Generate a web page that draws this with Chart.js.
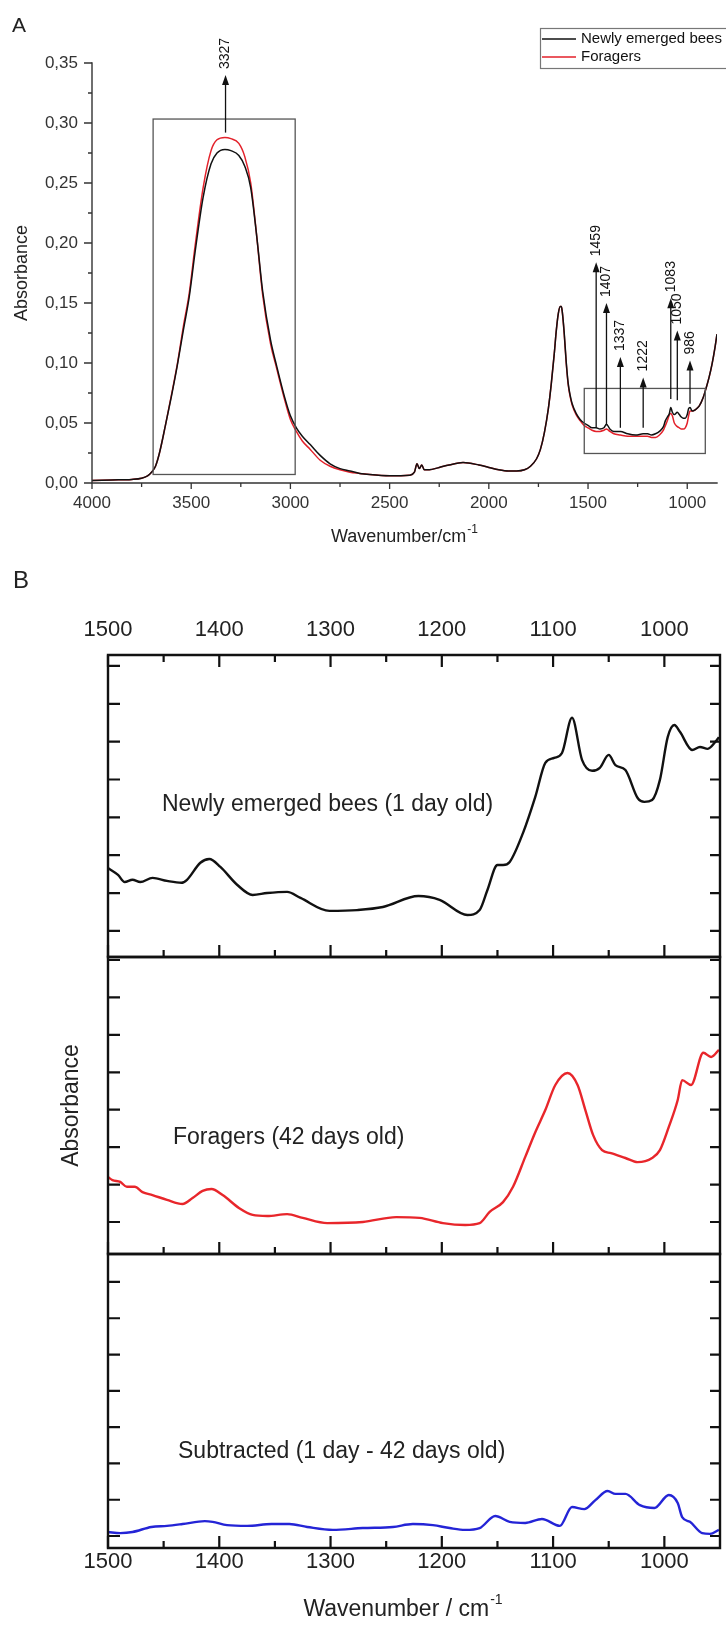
<!DOCTYPE html>
<html><head><meta charset="utf-8">
<script src="https://cdn.jsdelivr.net/npm/chart.js@4.4.1/dist/chart.umd.min.js"></script>
<style>
html,body{margin:0;padding:0;background:#fff;}
#wrap{position:relative;width:726px;height:1636px;overflow:hidden;background:#fff;}
canvas{position:absolute;left:0;}
</style></head><body>
<div id="wrap">
<canvas id="cA" width="726" height="560" style="top:0px"></canvas>
<canvas id="cB1" width="726" height="410" style="top:560px"></canvas>
<canvas id="cB2" width="726" height="330" style="top:940px"></canvas>
<canvas id="cB3" width="726" height="396" style="top:1240px"></canvas>
</div>
<script>
// ---------------- DATA: panel A ----------------
const wnA = [4000,3900,3800,3750,3720,3700,3680,3660,3630,3600,3570,3540,3510,3480,3440,3400,3370,3330,3300,3260,
  3230,3200,3170,3140,3100,3070,3030,3000,2970,2940,2900,2850,2800,2750,2700,2650,2600,2500,2400,2375,
  2362,2350,2338,2325,2300,2250,2200,2130,2050,2000,1950,1900,1860,1820,1790,1760,1740,1720,1700,1685,
  1670,1660,1650,1640,1635,1630,1620,1610,1600,1590,1580,1560,1540,1520,1500,1480,1459,1440,1420,1407,
  1390,1370,1337,1300,1260,1222,1200,1180,1160,1140,1120,1110,1100,1090,1083,1075,1065,1050,1040,1030,
  1020,1010,1000,993,986,975,960,940,920,905,890,875,860,850];
const newlyA = [0.002,0.0025,0.003,0.004,0.006,0.009,0.014,0.025,0.048,0.072,0.098,0.127,0.155,0.193,0.238,0.266,0.275,0.278,0.277,0.273,
  0.264,0.246,0.206,0.160,0.119,0.098,0.072,0.056,0.046,0.039,0.032,0.023,0.016,0.012,0.010,0.008,0.007,0.006,0.0065,0.009,
  0.016,0.012,0.015,0.011,0.011,0.013,0.015,0.017,0.015,0.013,0.011,0.010,0.010,0.011,0.014,0.020,0.028,0.042,0.062,0.083,
  0.108,0.127,0.141,0.147,0.147,0.143,0.125,0.101,0.083,0.073,0.066,0.058,0.053,0.050,0.048,0.046,0.046,0.045,0.046,0.049,
  0.045,0.043,0.043,0.041,0.040,0.041,0.041,0.040,0.041,0.043,0.047,0.052,0.055,0.058,0.063,0.059,0.057,0.059,0.057,0.055,
  0.054,0.054,0.057,0.062,0.063,0.060,0.061,0.064,0.071,0.079,0.088,0.099,0.113,0.124];
const foragersA = [0.002,0.0025,0.003,0.004,0.006,0.009,0.014,0.025,0.048,0.073,0.099,0.130,0.158,0.198,0.246,0.277,0.286,0.288,0.287,0.283,
  0.272,0.250,0.206,0.157,0.116,0.096,0.070,0.053,0.043,0.035,0.028,0.019,0.014,0.011,0.009,0.008,0.007,0.006,0.0065,0.009,
  0.016,0.012,0.015,0.011,0.011,0.013,0.015,0.017,0.015,0.013,0.011,0.010,0.010,0.011,0.014,0.020,0.028,0.042,0.062,0.083,
  0.108,0.127,0.141,0.147,0.147,0.143,0.124,0.100,0.082,0.072,0.065,0.057,0.052,0.048,0.046,0.044,0.043,0.043,0.044,0.045,
  0.043,0.041,0.040,0.039,0.039,0.039,0.039,0.038,0.038,0.040,0.044,0.048,0.052,0.057,0.058,0.056,0.050,0.047,0.046,0.045,
  0.045,0.046,0.050,0.056,0.060,0.060,0.061,0.064,0.071,0.079,0.088,0.099,0.113,0.124];
const seriesNamesA = ['Newly emerged bees', 'Foragers'];
const xMajorA = [4000,3500,3000,2500,2000,1500,1000];
const xMinorA = [3750,3250,2750,2250,1750,1250];
const yMajorA = [0,0.05,0.10,0.15,0.20,0.25,0.30,0.35];
const yMinorA = [0.025,0.075,0.125,0.175,0.225,0.275,0.325];
// marked bands (wavenumber labels) and arrow extents in absorbance
const peakLabels = [3327,1459,1407,1337,1222,1083,1050,986];
const arrowBase  = [0.292,0.046,0.048,0.046,0.046,0.070,0.069,0.066];
const arrowTip   = [0.340,0.184,0.150,0.105,0.088,0.154,0.127,0.102];
// highlighted regions [from wn, to wn], [low abs, high abs]
const boxWnFrom = [3692,1519];
const boxWnTo   = [2976,909];
const boxAbsLow = [0.0071,0.0246];
const boxAbsHigh= [0.3033,0.0788];

// ---------------- DATA: panel B (arbitrary offset units) ----------------
const wnB1 = [1500,1491,1485,1478,1471,1460,1447,1434,1429,1417,1409,1399,1384,1370,1357,1339,1327,1301,1276,1253,
  1221,1202,1177,1166,1159,1150,1145,1139,1127,1116,1107,1099,1092,1083,1074,1065,1058,1050,1044,1035,
  1024,1018,1011,1004,997,991,986,975,968,961,954,951];
const newlyB = [1.66,1.48,1.29,1.35,1.29,1.40,1.32,1.27,1.35,1.80,1.90,1.69,1.22,0.95,1.00,1.03,0.87,0.53,0.55,0.63,
  0.92,0.82,0.42,0.55,1.08,1.74,1.74,1.82,2.59,3.54,4.44,4.57,4.70,5.63,4.52,4.23,4.31,4.65,4.38,4.25,
  3.51,3.41,3.46,3.99,5.12,5.44,5.26,4.78,4.86,4.81,5.0,5.12];
const wnB2 = [1500,1496,1489,1483,1476,1469,1460,1447,1433,1424,1415,1407,1397,1382,1370,1357,1339,1325,1303,1271,
  1241,1220,1199,1179,1166,1157,1145,1136,1125,1116,1107,1098,1087,1078,1071,1064,1056,1048,1035,1024,
  1011,1004,996,988,984,976,965,958,951];
const foragersB = [1.20,1.12,1.07,0.94,0.94,0.80,0.72,0.59,0.48,0.64,0.83,0.88,0.72,0.37,0.19,0.16,0.21,0.11,-0.03,0.0,
  0.13,0.11,-0.03,-0.08,-0.03,0.27,0.53,0.94,1.74,2.40,2.99,3.66,3.98,3.66,2.99,2.32,1.92,1.84,1.71,1.60,
  1.71,1.92,2.54,3.26,3.79,3.66,4.52,4.41,4.60];
const wnB3 = [1500,1489,1478,1461,1447,1433,1413,1406,1393,1375,1353,1337,1321,1298,1271,1244,1226,1208,1193,1179,
  1166,1152,1139,1125,1110,1094,1083,1072,1062,1051,1044,1035,1022,1009,996,988,984,977,966,959,951];
const subtractedB = [0.11,0.08,0.11,0.25,0.28,0.33,0.41,0.39,0.30,0.28,0.33,0.33,0.25,0.17,0.22,0.25,0.33,0.30,0.22,0.17,
  0.22,0.55,0.39,0.36,0.47,0.28,0.80,0.74,0.99,1.24,1.16,1.16,0.85,0.77,1.13,0.91,0.52,0.39,0.08,0.06,0.17];
const panelNamesB = ['Newly emerged bees (1 day old)', 'Foragers (42 days old)', 'Subtracted (1 day - 42 days old)'];
const xMajorB = [1500,1400,1300,1200,1100,1000];
const xMinorB = [1450,1350,1250,1150,1050];
const yTicksB = [0,1,2,3,4,5,6,7];

// ---------------- helpers ----------------
const FONT = "'Liberation Sans', Arial, Helvetica, sans-serif";
Chart.defaults.font.family = FONT;
Chart.defaults.color = '#222';

function pts(xs, ys){ return xs.map((x,i)=>({x:x, y:ys[i]})); }

function drawFrame(chart, f){
  const ctx = chart.ctx, a = chart.chartArea, xs = chart.scales.x, ys = chart.scales.y;
  ctx.save();
  ctx.strokeStyle = f.color; ctx.lineWidth = f.width; ctx.lineCap = 'square';
  ctx.beginPath();
  f.sides.forEach(s=>{
    if(s==='left'){ctx.moveTo(a.left,a.top);ctx.lineTo(a.left,a.bottom);}
    if(s==='right'){ctx.moveTo(a.right,a.top);ctx.lineTo(a.right,a.bottom);}
    if(s==='top'){ctx.moveTo(a.left,a.top);ctx.lineTo(a.right,a.top);}
    if(s==='bottom'){ctx.moveTo(a.left,a.bottom);ctx.lineTo(a.right,a.bottom);}
  });
  ctx.stroke();
  ctx.lineCap = 'butt'; ctx.lineWidth = f.tickWidth;
  ctx.beginPath();
  (f.xTicks||[]).forEach(t=>t.values.forEach(v=>{
    const px = xs.getPixelForValue(v);
    const y0 = t.side==='top' ? a.top : a.bottom;
    const sg = ((t.side==='top')===(t.dir==='in')) ? 1 : -1;
    ctx.moveTo(px,y0); ctx.lineTo(px,y0+sg*t.len);
  }));
  (f.yTicks||[]).forEach(t=>t.values.forEach(v=>{
    const py = ys.getPixelForValue(v);
    const x0 = t.side==='left' ? a.left : a.right;
    const sg = ((t.side==='left')===(t.dir==='in')) ? 1 : -1;
    ctx.moveTo(x0,py); ctx.lineTo(x0+sg*t.len,py);
  }));
  ctx.stroke();
  ctx.restore();
}

function supText(ctx, main, sup, cx, cy, size, supSize, rise, color){
  ctx.save();
  ctx.fillStyle = color; ctx.textBaseline = 'middle'; ctx.textAlign = 'left';
  ctx.font = size+'px '+FONT; const w1 = ctx.measureText(main).width;
  ctx.font = supSize+'px '+FONT; const w2 = ctx.measureText(sup).width;
  const x0 = cx - (w1+w2+1)/2;
  ctx.font = size+'px '+FONT; ctx.fillText(main, x0, cy);
  ctx.font = supSize+'px '+FONT; ctx.fillText(sup, x0+w1+1, cy-rise);
  ctx.restore();
}

function text(ctx, s, x, y, size, color, base){
  ctx.save(); ctx.fillStyle = color; ctx.font = size+'px '+FONT;
  ctx.textAlign = 'left'; ctx.textBaseline = base || 'middle';
  ctx.fillText(s, x, y); ctx.restore();
}

// ---------------- Panel A ----------------
const panelAPlugin = {
  id: 'panelA',
  afterDatasetsDraw(chart){
    const ctx = chart.ctx, a = chart.chartArea, xs = chart.scales.x, ys = chart.scales.y;
    drawFrame(chart, {color:'#333', width:1.4, tickWidth:1.3, sides:['left','bottom'],
      xTicks:[{values:xMajorA,len:6,dir:'out',side:'bottom'},{values:xMinorA,len:4,dir:'out',side:'bottom'}],
      yTicks:[{values:yMajorA,len:8,dir:'out',side:'left'},{values:yMinorA,len:4,dir:'out',side:'left'}]});
    // boxes
    ctx.save();
    ctx.strokeStyle = '#555'; ctx.lineWidth = 1.3;
    boxWnFrom.forEach((w,i)=>{
      const x1 = xs.getPixelForValue(w), x2 = xs.getPixelForValue(boxWnTo[i]);
      const y1 = ys.getPixelForValue(boxAbsHigh[i]), y2 = ys.getPixelForValue(boxAbsLow[i]);
      ctx.strokeRect(x1, y1, x2-x1, y2-y1);
    });
    // arrows
    ctx.strokeStyle = '#111'; ctx.fillStyle = '#111'; ctx.lineWidth = 1.3;
    peakLabels.forEach((p,i)=>{
      const x = xs.getPixelForValue(p);
      const yb = ys.getPixelForValue(arrowBase[i]), yt = ys.getPixelForValue(arrowTip[i]);
      ctx.beginPath(); ctx.moveTo(x,yb); ctx.lineTo(x,yt+8); ctx.stroke();
      ctx.beginPath(); ctx.moveTo(x,yt); ctx.lineTo(x-3.5,yt+10); ctx.lineTo(x+3.5,yt+10); ctx.closePath(); ctx.fill();
      ctx.save(); ctx.translate(x, yt-6); ctx.rotate(-Math.PI/2);
      ctx.font = '14px '+FONT; ctx.textAlign = 'left'; ctx.textBaseline = 'middle';
      ctx.fillText(String(p), 0, 0); ctx.restore();
    });
    ctx.restore();
    // legend
    ctx.save();
    ctx.strokeStyle = '#777'; ctx.lineWidth = 1.2;
    ctx.strokeRect(540.5, 28.5, 200, 40);
    chart.data.datasets.forEach((ds,i)=>{
      const y = 39 + i*18;
      ctx.strokeStyle = ds.borderColor; ctx.lineWidth = 1.6;
      ctx.beginPath(); ctx.moveTo(542,y); ctx.lineTo(576,y); ctx.stroke();
      text(ctx, ds.label, 581, y, 15, '#111');
    });
    ctx.restore();
    // axis title and panel letter
    supText(ctx, 'Wavenumber/cm', '-1', (a.left+a.right)/2, 537, 18, 12, 7, '#222');
    text(ctx, 'A', 12, 32, 21, '#222', 'alphabetic');
  }
};

new Chart(document.getElementById('cA'), {
  type: 'line',
  data: { datasets: [
    {label: seriesNamesA[0], data: pts(wnA,newlyA), borderColor:'#111111', borderWidth:1.5, pointRadius:0, cubicInterpolationMode:'monotone', fill:false},
    {label: seriesNamesA[1], data: pts(wnA,foragersA), borderColor:'#e3212a', borderWidth:1.5, pointRadius:0, cubicInterpolationMode:'monotone', fill:false}
  ]},
  options: {
    responsive:false, animation:false, events:[],
    layout:{padding:{top:63,right:9,bottom:0,left:0}},
    scales:{
      x:{type:'linear', reverse:true, min:850, max:4000,
         afterBuildTicks(s){ s.ticks = xMajorA.map(v=>({value:v})); },
         afterFit(s){ s.height = 77; },
         grid:{display:false, drawTicks:false}, border:{display:false},
         ticks:{padding:10, color:'#333', font:{size:17}, maxRotation:0, autoSkip:false, callback:v=>String(v)}},
      y:{type:'linear', min:0, max:0.35,
         afterBuildTicks(s){ s.ticks = yMajorA.map(v=>({value:v})); },
         afterFit(s){ s.width = 92; },
         grid:{display:false, drawTicks:false}, border:{display:false},
         ticks:{padding:14, color:'#333', font:{size:17}, autoSkip:false, callback:v=>v.toFixed(2).replace('.',',')},
         title:{display:true, text:'Absorbance', color:'#222', font:{size:18}, padding:{top:11,bottom:0}}}
    },
    plugins:{legend:{display:false}, tooltip:{enabled:false}}
  },
  plugins:[panelAPlugin]
});

// ---------------- Panel B ----------------
function bFrame(sides, topTicks){
  const xt = [{values:xMajorB,len:12,dir:'in',side:'bottom'},{values:xMinorB,len:7,dir:'in',side:'bottom'}];
  if(topTicks){ xt.push({values:xMajorB,len:12,dir:'in',side:'top'},{values:xMinorB,len:7,dir:'in',side:'top'}); }
  return {color:'#111', width:2.4, tickWidth:2.2, sides:sides, xTicks:xt,
    yTicks:[{values:yTicksB,len:12,dir:'in',side:'left'},{values:yTicksB,len:10,dir:'in',side:'right'}]};
}
const xTickStyleB = {font:{size:22}, color:'#222', maxRotation:0, autoSkip:false, callback:v=>String(v)};

new Chart(document.getElementById('cB1'), {
  type:'line',
  data:{datasets:[{label:panelNamesB[0], data:pts(wnB1,newlyB), borderColor:'#111111', borderWidth:2.4, pointRadius:0, cubicInterpolationMode:'monotone', fill:false}]},
  options:{
    responsive:false, animation:false, events:[],
    layout:{padding:{top:0,right:6,bottom:13,left:108}},
    scales:{
      x:{type:'linear', position:'top', reverse:true, min:950, max:1500,
         afterBuildTicks(s){ s.ticks = xMajorB.map(v=>({value:v})); },
         afterFit(s){ s.height = 95; },
         grid:{display:false, drawTicks:false}, border:{display:false},
         ticks:Object.assign({padding:12}, xTickStyleB)},
      y:{type:'linear', display:false, min:-0.69, max:7.29}
    },
    plugins:{legend:{display:false}, tooltip:{enabled:false}}
  },
  plugins:[{id:'b1', afterDatasetsDraw(chart){
    drawFrame(chart, bFrame(['left','right','top','bottom'], true));
    text(chart.ctx, chart.data.datasets[0].label, 162, 245, 23, '#222');
    text(chart.ctx, 'B', 13, 28, 24, '#222', 'alphabetic');
  }}]
});

new Chart(document.getElementById('cB2'), {
  type:'line',
  data:{datasets:[{label:panelNamesB[1], data:pts(wnB2,foragersB), borderColor:'#e8262b', borderWidth:2.4, pointRadius:0, cubicInterpolationMode:'monotone', fill:false}]},
  options:{
    responsive:false, animation:false, events:[],
    layout:{padding:{top:17,right:6,bottom:16,left:0}},
    scales:{
      x:{type:'linear', display:false, reverse:true, min:950, max:1500},
      y:{type:'linear', min:-0.855, max:7.08,
         afterFit(s){ s.width = 108; },
         grid:{display:false, drawTicks:false}, border:{display:false},
         ticks:{display:false},
         title:{display:true, text:'Absorbance', color:'#222', font:{size:23}, padding:{top:58,bottom:0}}}
    },
    plugins:{legend:{display:false}, tooltip:{enabled:false}}
  },
  plugins:[{id:'b2', afterDatasetsDraw(chart){
    drawFrame(chart, bFrame(['left','right','top','bottom'], false));
    text(chart.ctx, chart.data.datasets[0].label, 173, 198, 23, '#222');
  }}]
});

new Chart(document.getElementById('cB3'), {
  type:'line',
  data:{datasets:[{label:panelNamesB[2], data:pts(wnB3,subtractedB), borderColor:'#2424d6', borderWidth:2.4, pointRadius:0, cubicInterpolationMode:'monotone', fill:false}]},
  options:{
    responsive:false, animation:false, events:[],
    layout:{padding:{top:14,right:6,bottom:0,left:108}},
    scales:{
      x:{type:'linear', position:'bottom', reverse:true, min:950, max:1500,
         afterBuildTicks(s){ s.ticks = xMajorB.map(v=>({value:v})); },
         afterFit(s){ s.height = 88; },
         grid:{display:false, drawTicks:false}, border:{display:false},
         ticks:Object.assign({padding:1}, xTickStyleB)},
      y:{type:'linear', display:false, min:-0.33, max:7.77}
    },
    plugins:{legend:{display:false}, tooltip:{enabled:false}}
  },
  plugins:[{id:'b3', afterDatasetsDraw(chart){
    drawFrame(chart, bFrame(['left','right','top','bottom'], false));
    text(chart.ctx, chart.data.datasets[0].label, 178, 212, 23, '#222');
    supText(chart.ctx, 'Wavenumber / cm', '-1', 403, 370, 23, 14, 10, '#222');
  }}]
});
</script>
</body></html>
